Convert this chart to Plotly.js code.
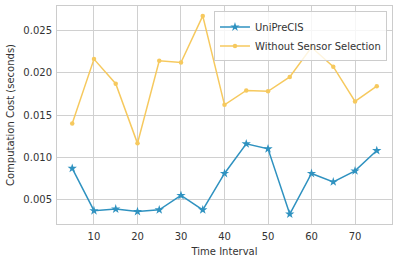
<!DOCTYPE html>
<html><head><meta charset="utf-8">
<script src="https://cdn.plot.ly/plotly-3.0.1.min.js"></script>
<style>html,body{margin:0;padding:0;background:#fff}#c{width:398px;height:262px}</style>
</head><body><div id="c"></div>
<script>
const timeInterval = [5,10,15,20,25,30,35,40,45,50,55,60,65,70,75];
const uniPreCIS = [0.0087,0.0037,0.0039,0.0036,0.0038,0.0055,0.0038,0.0081,0.0116,0.0110,0.0033,0.0081,0.0071,0.0084,0.0108];
const withoutSel = [0.0140,0.0216,0.0187,0.01165,0.0214,0.0212,0.0267,0.0162,0.0179,0.0178,0.0195,0.0230,0.0207,0.0166,0.0184];
const names = ["UniPreCIS","Without Sensor Selection"];
const xTicks = [10,20,30,40,50,60,70];
const yTicks = [0.005,0.010,0.015,0.020,0.025];

const traces = [
 {x: timeInterval, y: uniPreCIS, name: names[0], mode:'lines+markers',
  line:{color:'#2f92c0', width:1.5}, marker:{symbol:'star', size:7, color:'#2f92c0'}},
 {x: timeInterval, y: withoutSel, name: names[1], mode:'lines+markers',
  line:{color:'#f6c95e', width:1.5}, marker:{symbol:'circle', size:4.5, color:'#f6c95e'}}
];
const font = {family:'DejaVu Sans, sans-serif', size:10, color:'#333333'};
const layout = {
 width:398, height:262, margin:{l:57,r:6,t:6,b:38},
 paper_bgcolor:'#fff', plot_bgcolor:'#fff', font: font, showlegend:true,
 xaxis:{range:[1.5,78.5], tickvals:xTicks, ticks:'', ticklabelstandoff:3, showgrid:true, gridcolor:'#d0d0d0', gridwidth:1,
   zeroline:false, showline:true, mirror:true, linecolor:'#cccccc', linewidth:1,
   title:{text:'Time Interval', font:font, standoff:6}},
 yaxis:{range:[0.00213,0.02787], tickvals:yTicks, tickformat:'.3f', ticks:'', ticklabelstandoff:2, showgrid:true, gridcolor:'#d0d0d0', gridwidth:1,
   zeroline:false, showline:true, mirror:true, linecolor:'#cccccc', linewidth:1,
   title:{text:'Computation Cost (seconds)', font:font, standoff:6}},
 legend:{x:0.985, y:0.975, xanchor:'right', yanchor:'top', bgcolor:'rgba(255,255,255,0.8)',
   bordercolor:'#cccccc', borderwidth:1, font:font, tracegroupgap:0, itemwidth:30}
};
Plotly.newPlot('c', traces, layout, {staticPlot:true, displayModeBar:false});
</script></body></html>
